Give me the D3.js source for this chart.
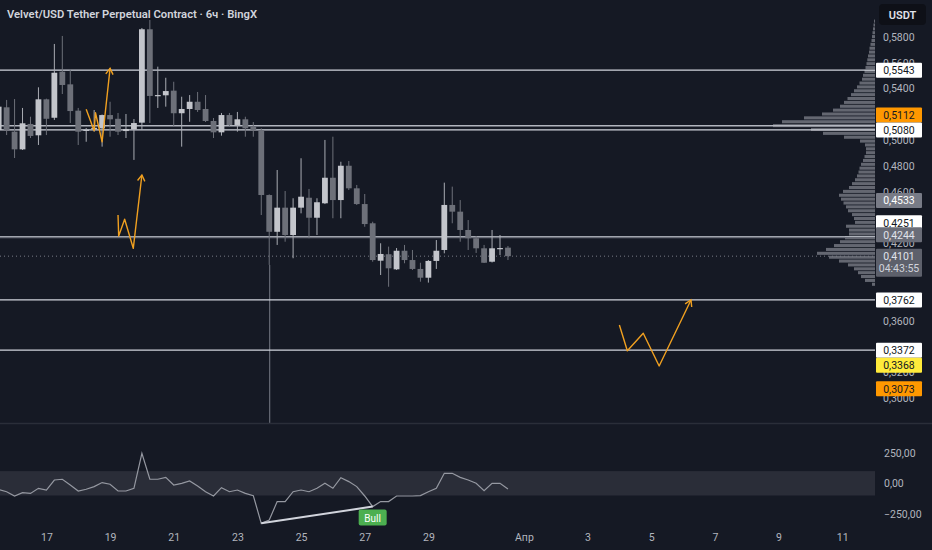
<!DOCTYPE html>
<html>
<head>
<meta charset="utf-8">
<script src="https://cdn.jsdelivr.net/npm/d3@7"></script>
<style>
   html, body { margin: 0; padding: 0; background: #151924; }
   svg { display: block; font-family: Roboto, "Noto Sans", sans-serif; }
</style>
</head>
<body>
<svg id="chart" width="932" height="550"></svg>
<script>
/*global d3*/
// 6h candles, first one at Mar 15 12:00
var firstCandle = "2025-03-15T12:00";
var opens = [0.5079, 0.5255, 0.5066, 0.4929, 0.5126, 0.5038, 0.5317, 0.5174, 0.5531, 0.5433,
   0.5229, 0.5080, 0.5095, 0.5092, 0.5195, 0.5166, 0.5071, 0.5085, 0.5136, 0.5860,
   0.5348, 0.5348, 0.5384, 0.5209, 0.5242, 0.5298, 0.5242, 0.5149, 0.5061, 0.5195,
   0.5118, 0.5162, 0.5105, 0.5079, 0.4575, 0.4290, 0.4477, 0.4265, 0.4477, 0.4554,
   0.4399, 0.4511, 0.4709, 0.4536, 0.4802, 0.4627, 0.4505, 0.4356, 0.4066, 0.4116,
   0.3999, 0.4143, 0.4071, 0.4002, 0.3934, 0.4064, 0.4149, 0.4498, 0.4446, 0.4304,
   0.4240, 0.4162, 0.4058, 0.4162, 0.4167];
var highs = [0.5312, 0.5312, 0.5319, 0.5250, 0.5182, 0.5410, 0.5322, 0.5746, 0.5808, 0.5552,
   0.5250, 0.5095, 0.5234, 0.5199, 0.5298, 0.5211, 0.5203, 0.5164, 0.5870, 0.5932,
   0.5570, 0.5484, 0.5453, 0.5337, 0.5350, 0.5374, 0.5350, 0.5172, 0.5211, 0.5211,
   0.5219, 0.5182, 0.5141, 0.5092, 0.4580, 0.4769, 0.4606, 0.4550, 0.4860, 0.4622,
   0.4550, 0.5002, 0.5027, 0.4833, 0.4839, 0.4653, 0.4583, 0.4368, 0.4201, 0.4175,
   0.4164, 0.4188, 0.4149, 0.4050, 0.4071, 0.4226, 0.4671, 0.4640, 0.4536, 0.4381,
   0.4257, 0.4188, 0.4304, 0.4265, 0.4180];
var lows = [0.5040, 0.5040, 0.4862, 0.4924, 0.5017, 0.4963, 0.5040, 0.5157, 0.5358, 0.5133,
   0.4963, 0.4988, 0.5066, 0.4950, 0.5027, 0.5040, 0.5017, 0.4847, 0.5079, 0.5133,
   0.5250, 0.5260, 0.5105, 0.4950, 0.5143, 0.5219, 0.5141, 0.5017, 0.5035, 0.5102,
   0.5066, 0.5027, 0.5027, 0.4420, 0.4033, 0.4188, 0.4213, 0.4085, 0.4433, 0.4240,
   0.4265, 0.4505, 0.4395, 0.4395, 0.4614, 0.4498, 0.4329, 0.4058, 0.3955, 0.3864,
   0.3994, 0.4046, 0.3994, 0.3903, 0.3896, 0.4002, 0.4123, 0.4356, 0.4213, 0.4149,
   0.4126, 0.4048, 0.4052, 0.4110, 0.4071];
var closes = [0.5260, 0.5079, 0.4929, 0.5131, 0.5033, 0.5317, 0.5166, 0.5523, 0.5428, 0.5226,
   0.5066, 0.5081, 0.5096, 0.5195, 0.5162, 0.5066, 0.5087, 0.5133, 0.5860, 0.5343,
   0.5350, 0.5381, 0.5209, 0.5242, 0.5298, 0.5234, 0.5149, 0.5061, 0.5195, 0.5118,
   0.5162, 0.5092, 0.5079, 0.4575, 0.4290, 0.4477, 0.4265, 0.4477, 0.4562, 0.4399,
   0.4519, 0.4709, 0.4536, 0.4802, 0.4627, 0.4505, 0.4350, 0.4071, 0.4118, 0.4007,
   0.4143, 0.4071, 0.4002, 0.3934, 0.4064, 0.4143, 0.4498, 0.4446, 0.4304, 0.4240,
   0.4162, 0.4050, 0.4162, 0.4164, 0.4101];

// CCI per candle
var cci = [-50, -69, -104, -77, -83, -41, -55, 27, 33, -14, -63, -49, -27, 6, -8, -63, -63, -41,
   246, 33, 33, 49, -14, 0, 19, -22, -69, -104, -36, -69, -55, -83, -101, -328, -301, -150,
   -150, -69, -55, -69, -41, 0, -41, 46, 14, -27, -104, -191, -150, -150, -104, -104, -104,
   -101, -69, -41, 82, 82, 49, 27, 0, -60, 0, 0, -47];
var divergence = [33, 47];   // candle indexes joined by the bull line
var divergenceLabel = "Bull";

// volume profile rows, top row at 0.592, one row per 0.003
var vpTop = 0.592, vpStep = 0.003;
var vpVolumes = [2, 2.5, 3, 3.5, 4, 4.5, 5.5, 6.5, 7, 8, 8.7, 9.5, 10.5, 11.5, 13, 14, 16.5, 19,
   22, 25, 28.5, 32, 36, 43, 54, 72, 94, 103, 65, 53, 32, 16, 11, 10, 10, 11.5, 13, 15, 16.5,
   17.5, 19, 21, 24, 27, 33, 37, 35, 32.5, 30, 28, 24, 22, 21, 30, 27, 27, 31, 36, 42, 50, 59,
   47, 37, 28, 22, 18, 15, 11, 4];

var hLines = [0.5543, 0.5112, 0.5080, 0.4251, 0.4244, 0.3762, 0.3372];
var hLineKinds = ["white", "soft", "white", "white", "gray", "white", "white"];
var lastPrice = 0.4101, countdown = "04:43:55";
var vLine = "2025-03-24T00:00";

var priceLabels = [0.5543, 0.5112, 0.5080, 0.4533, 0.4251, 0.4244, 0.4101, 0.3762, 0.3372, 0.3368, 0.3073];
var labelKinds = ["white", "orange", "white", "gray", "white", "dark", "last", "white", "white", "yellow", "orange"];

var arrows = [
   [["2025-03-18T06:00", 0.5240], ["2025-03-18T12:00", 0.5074], ["2025-03-18T13:00", 0.5213],
      ["2025-03-18T18:00", 0.4988], ["2025-03-19T00:00", 0.5557]],
   [["2025-03-19T06:00", 0.4420], ["2025-03-19T06:30", 0.4257], ["2025-03-19T11:00", 0.4387],
      ["2025-03-19T17:30", 0.4162], ["2025-03-20T00:00", 0.4730]],
   [["2025-04-04T00:00", 0.3567], ["2025-04-04T06:00", 0.3368], ["2025-04-04T18:00", 0.3503],
      ["2025-04-05T06:00", 0.3250], ["2025-04-06T06:00", 0.3761]]
];

var priceTicks = [0.30, 0.32, 0.34, 0.36, 0.38, 0.40, 0.42, 0.44, 0.46, 0.48, 0.50, 0.52, 0.54, 0.56, 0.58];
var cciTicks = [250, 0, -250];
var dateTicks = ["2025-03-17T00:00", "2025-03-19T00:00", "2025-03-21T00:00", "2025-03-23T00:00",
   "2025-03-25T00:00", "2025-03-27T00:00", "2025-03-29T00:00", "2025-04-01T00:00", "2025-04-03T00:00",
   "2025-04-05T00:00", "2025-04-07T00:00", "2025-04-09T00:00", "2025-04-11T00:00"];
var monthNames = ["Янв", "Фев", "Мар", "Апр", "Май", "Июн", "Июл", "Авг", "Сен", "Окт", "Ноя", "Дек"];
var title = "Velvet/USD Tether Perpetual Contract · 6ч · BingX";

(function () {
   "use strict";
   var svg = d3.select("#chart"),
      parseT = d3.timeParse("%Y-%m-%dT%H:%M"),
      t0 = parseT(firstCandle),
      paneW = 875,
      mainBottom = 423,
      x = d3.scaleTime().domain([parseT("2025-03-17T00:00"), parseT("2025-04-11T00:00")]).range([46.4, 842.2]),
      y = d3.scaleLinear().domain([0.30, 0.58]).range([398.2, 37]),
      yc = d3.scaleLinear().domain([-250, 250]).range([513.8, 452.8]),
      comma = function (v, n) { return d3.format("." + n + "f")(v).replace(".", ",").replace("-", "\u2212"); },
      candles = opens.map(function (o, i) {
         return {t: d3.timeHour.offset(t0, 6 * i), o: o, h: highs[i], l: lows[i], c: closes[i], cci: cci[i]};
      }),
      main, vp, rowH, vMax, lineGen, osc, divPts, bx, yAxis, xAxis, cAxis, labels, cg, lg, style;

   svg.append("rect").attr("width", 932).attr("height", 550).attr("fill", "#151924");

   svg.append("defs").append("clipPath").attr("id", "mainClip")
      .append("rect").attr("x", 0).attr("y", 0).attr("width", paneW).attr("height", mainBottom);

   main = svg.append("g").attr("clip-path", "url(#mainClip)");

   // volume profile
   vMax = d3.max(vpVolumes);
   vp = d3.scaleLinear().domain([0, vMax]).range([0, 103]);
   rowH = y(0) - y(vpStep);
   main.append("g").selectAll("rect").data(vpVolumes).enter().append("rect")
      .attr("x", function (d) { return 876 - vp(d); })
      .attr("y", function (d, i) { return y(vpTop - i * vpStep) - rowH / 2; })
      .attr("width", function (d) { return vp(d); })
      .attr("height", rowH - 0.8)
      .attr("fill", "#9598a1")
      .attr("opacity", 0.62);

   // vertical line drawing
   main.append("line")
      .attr("x1", x(parseT(vLine)) + 0.5).attr("x2", x(parseT(vLine)) + 0.5)
      .attr("y1", y(candles[34].l)).attr("y2", mainBottom)
      .attr("stroke", "#787b86").attr("stroke-width", 1);

   // horizontal levels
   main.append("g").selectAll("line").data(hLines).enter().append("line")
      .attr("x1", 0).attr("x2", paneW)
      .attr("y1", function (d) { return y(d); }).attr("y2", function (d) { return y(d); })
      .attr("stroke", function (d, i) {
         return {white: "#d1d4dc", soft: "#b2b5be", gray: "#6a6d78"}[hLineKinds[i]];
      })
      .attr("stroke-width", 1.3);

   // last price dotted line
   main.append("line")
      .attr("x1", 0).attr("x2", paneW)
      .attr("y1", y(lastPrice)).attr("y2", y(lastPrice))
      .attr("stroke", "#787b86").attr("stroke-dasharray", "1,3");

   // candles
   cg = main.append("g").selectAll("g").data(candles).enter().append("g");
   cg.append("line")
      .attr("x1", function (d) { return x(d.t); }).attr("x2", function (d) { return x(d.t); })
      .attr("y1", function (d) { return y(d.h); }).attr("y2", function (d) { return y(d.l); })
      .attr("stroke", function (d) { return d.c >= d.o ? "#a9acb3" : "#6d7079"; })
      .attr("stroke-width", 1);
   cg.append("rect")
      .attr("x", function (d) { return x(d.t) - 2.9; })
      .attr("y", function (d) { return y(Math.max(d.o, d.c)); })
      .attr("width", 5.8)
      .attr("height", function (d) { return Math.max(1.2, Math.abs(y(d.o) - y(d.c))); })
      .attr("fill", function (d) { return d.c >= d.o ? "#c3c5cb" : "#6d7079"; });

   // orange drawings
   lineGen = d3.line()
      .x(function (d) { return x(parseT(d[0])); })
      .y(function (d) { return y(d[1]); });
   arrows.forEach(function (pts) {
      var n = pts.length,
         ex = x(parseT(pts[n - 1][0])), ey = y(pts[n - 1][1]),
         sx = x(parseT(pts[n - 2][0])), sy = y(pts[n - 2][1]),
         ang = Math.atan2(ey - sy, ex - sx),
         head = [ang + Math.PI - 0.55, ang + Math.PI + 0.55].map(function (a) {
            return [ex + 7 * Math.cos(a), ey + 7 * Math.sin(a)];
         });
      main.append("path").attr("d", lineGen(pts))
         .attr("fill", "none").attr("stroke", "#f0a020").attr("stroke-width", 1.4)
         .attr("stroke-linejoin", "round");
      main.append("path")
         .attr("d", "M" + head[0] + "L" + ex + "," + ey + "L" + head[1])
         .attr("fill", "none").attr("stroke", "#f0a020").attr("stroke-width", 1.4);
   });

   // pane separator
   svg.append("line").attr("x1", 0).attr("x2", 932).attr("y1", mainBottom + 0.5).attr("y2", mainBottom + 0.5)
      .attr("stroke", "#2a2e39").attr("stroke-width", 1.5);

   // CCI pane
   osc = svg.append("g");
   osc.append("rect").attr("x", 0).attr("width", paneW)
      .attr("y", yc(100)).attr("height", yc(-100) - yc(100))
      .attr("fill", "#2a2d38");
   osc.append("path").datum(candles)
      .attr("d", d3.line().x(function (d) { return x(d.t); }).y(function (d) { return yc(d.cci); }))
      .attr("fill", "none").attr("stroke", "#9598a1").attr("stroke-width", 1.2);
   divPts = divergence.map(function (i) { return candles[i]; });
   osc.append("line")
      .attr("x1", x(divPts[0].t)).attr("y1", yc(divPts[0].cci))
      .attr("x2", x(divPts[1].t)).attr("y2", yc(divPts[1].cci))
      .attr("stroke", "#d1d4dc").attr("stroke-width", 2);
   bx = x(divPts[1].t);
   osc.append("rect").attr("x", bx - 14).attr("y", yc(divPts[1].cci) + 3)
      .attr("width", 28).attr("height", 16).attr("rx", 2).attr("fill", "#4caf50");
   osc.append("text").attr("x", bx).attr("y", yc(divPts[1].cci) + 15)
      .attr("text-anchor", "middle").attr("font-size", 10).attr("fill", "#ffffff")
      .text(divergenceLabel);

   // price labels on the axis, nudged apart where they collide
   labels = priceLabels.map(function (p, i) {
      return {p: p, kind: labelKinds[i], y: y(p), h: labelKinds[i] === "last" ? 28 : 15};
   }).sort(function (a, b) { return b.p - a.p; });
   labels.forEach(function (a, i) {
      var b = labels[i + 1], gap;
      if (!b) { return; }
      gap = (a.h + b.h) / 2;
      if (b.y - a.y < gap) {
         if (b.kind === "orange" || b.kind === "yellow") {
            b.y = a.y + gap;
         } else {
            a.y = b.y - gap;
         }
      }
   });

   // axes (ticks fully hidden behind a label box are dropped)
   function covered(v) {
      var ty = y(v);
      return labels.some(function (d) {
         var top = d.kind === "last" ? d.y - 7.5 : d.y - d.h / 2;
         return ty > top + 2 && ty < top + d.h - 2;
      });
   }
   yAxis = svg.append("g").attr("transform", "translate(883,0)")
      .call(d3.axisRight(y).tickValues(priceTicks.filter(function (v) { return !covered(v); }))
         .tickSize(0).tickPadding(0)
         .tickFormat(function (d) { return comma(d, 4); }));
   cAxis = svg.append("g").attr("transform", "translate(884,0)")
      .call(d3.axisRight(yc).tickValues(cciTicks).tickSize(0).tickPadding(0)
         .tickFormat(function (d) { return comma(d, 2); }));
   xAxis = svg.append("g").attr("transform", "translate(0,534)")
      .call(d3.axisBottom(x).tickValues(dateTicks.map(parseT)).tickSize(0).tickPadding(0)
         .tickFormat(function (d) { return d.getDate() === 1 ? monthNames[d.getMonth()] : d.getDate(); }));
   [yAxis, cAxis, xAxis].forEach(function (a) {
      a.select(".domain").remove();
      a.selectAll("text").attr("fill", "#b2b5be").attr("font-size", 10.5)
         .attr("font-family", "Roboto, sans-serif");
   });

   lg = svg.append("g").selectAll("g").data(labels).enter().append("g");
   style = {
      white: ["#ffffff", "#131722"], orange: ["#ff9800", "#131722"], yellow: ["#ffeb3b", "#131722"],
      gray: ["#787b86", "#ffffff"], dark: ["#6a6d78", "#e0e3eb"], last: ["#5d606b", "#e0e3eb"]
   };
   lg.append("rect")
      .attr("x", 876).attr("width", 46)
      .attr("y", function (d) { return d.kind === "last" ? d.y - 7.5 : d.y - d.h / 2; })
      .attr("height", function (d) { return d.h; })
      .attr("rx", 1)
      .attr("fill", function (d) { return style[d.kind][0]; });
   lg.append("text")
      .attr("x", 899).attr("y", function (d) { return d.y + 4; })
      .attr("text-anchor", "middle")
      .attr("font-size", 10.5)
      .attr("fill", function (d) { return style[d.kind][1]; })
      .text(function (d) { return comma(d.p, 4); });
   lg.filter(function (d) { return d.kind === "last"; }).append("text")
      .attr("x", 899).attr("y", function (d) { return d.y + 16; })
      .attr("text-anchor", "middle")
      .attr("font-size", 10.5).attr("fill", "#d1d4dc")
      .text(countdown);

   // currency button and title
   svg.append("rect").attr("x", 879).attr("y", 4).attr("width", 47).attr("height", 21).attr("rx", 4)
      .attr("fill", "#0e1017");
   svg.append("text").attr("x", 902.5).attr("y", 18.5).attr("text-anchor", "middle")
      .attr("font-size", 11).attr("font-weight", 600).attr("fill", "#e0e3eb").text("USDT");
   svg.append("text").attr("x", 7).attr("y", 18)
      .attr("font-size", 11.5).attr("font-weight", 600).attr("fill", "#d1d4dc")
      .attr("textLength", 250).attr("lengthAdjust", "spacingAndGlyphs")
      .text(title);
}());
</script>
</body>
</html>
